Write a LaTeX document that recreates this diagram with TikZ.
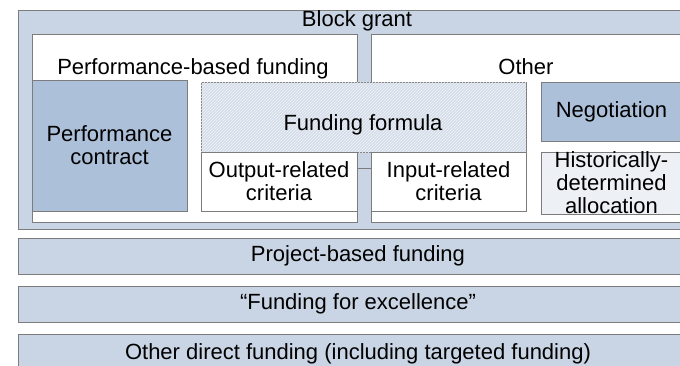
\documentclass[tikz,border=0pt]{standalone}
\usepackage{fontspec}
\setmainfont{Liberation Sans}
\usetikzlibrary{patterns}
\definecolor{grantblue}{HTML}{C9D5E4}
\definecolor{darkblue}{HTML}{ADC0D9}
\definecolor{formulablue}{HTML}{D3DDE9}
\definecolor{paleblue}{HTML}{EDF0F5}
\definecolor{boxgray}{HTML}{7C7C7C}
\tikzset{
  box/.style={draw=boxgray, line width=0.8pt, inner sep=0pt, outer sep=0pt,
    anchor=north west, align=center, font=\fontsize{22}{23}\selectfont},
  lbl/.style={inner sep=0pt, anchor=base, font=\fontsize{22}{23}\selectfont}
}
\begin{document}
\begin{tikzpicture}[x=1pt, y=-1pt]
\useasboundingbox (0,0) rectangle (680,365);
\clip (0,0) rectangle (680,365);
% Block grant
\node[box, fill=grantblue, minimum width=680, minimum height=219] (block) at (18,10) {};
\node[lbl] (grant) at (357,26) {Block grant};
% Two halves
\node[box, fill=white, minimum width=325, minimum height=188] (perf) at (32,34) {};
\node[lbl] (perflbl) at (193,74) {Performance-based funding};
\node[box, fill=white, minimum width=311, minimum height=188] (other) at (371,34) {};
\node[lbl] (otherlbl) at (526,74) {Other};
% Inner boxes
\node[box, fill=darkblue, minimum width=155, minimum height=131] (contract) at (32,80) {Performance\\contract};
\node[box, fill=formulablue, minimum width=325, minimum height=70,
  postaction={pattern=north east lines, pattern color=white!70!formulablue}] (formula) at (201,82) {};
\node[lbl] (formulalbl) at (363,130) {Funding formula};
\node[box, fill=white, minimum width=156, minimum height=59] (output) at (201,152) {Output-related\\criteria};
\node[box, fill=white, minimum width=155, minimum height=59] (input) at (371,152) {Input-related\\criteria};
\draw[boxgray, line width=0.8pt] ([yshift=13.5pt]output.east) -- ([yshift=13.5pt]input.west);
\node[box, fill=darkblue, minimum width=141, minimum height=59] (negotiation) at (541,82) {Negotiation};
\node[box, fill=paleblue, minimum width=141, minimum height=59] (historic) at (541,152) {Historically-\\determined\\allocation};
% Other funding streams
\node[box, fill=grantblue, minimum width=680, minimum height=36] (project) at (18,238) {Project-based funding};
\node[box, fill=grantblue, minimum width=680, minimum height=36] (excellence) at (18,286) {``Funding for excellence''};
\node[box, fill=grantblue, minimum width=680, minimum height=40] (direct) at (18,334) {Other direct funding (including targeted funding)};
\end{tikzpicture}
\end{document}
